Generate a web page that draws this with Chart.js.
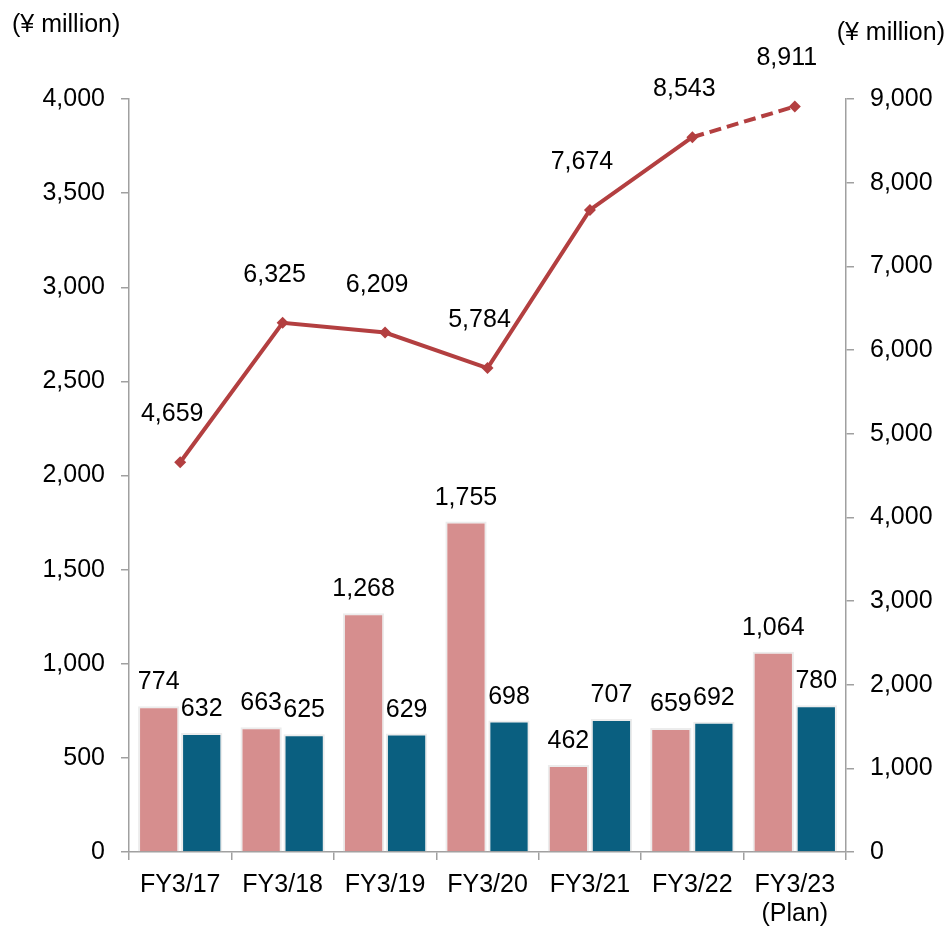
<!DOCTYPE html>
<html>
<head>
<meta charset="utf-8">
<script src="https://cdn.jsdelivr.net/npm/chart.js@4"></script>
<style>
  body { margin: 0; background: #fff; }
</style>
</head>
<body>
<canvas id="canvas" width="952" height="926"></canvas>
<script>
const categories = ['FY3/17', 'FY3/18', 'FY3/19', 'FY3/20', 'FY3/21', 'FY3/22', ['FY3/23', '(Plan)']];
const pinkBars = [774, 663, 1268, 1755, 462, 659, 1064];
const tealBars = [632, 625, 629, 698, 707, 692, 780];
const lineValues = [4659, 6325, 6209, 5784, 7674, 8543, 8911];
const leftTicks = [0, 500, 1000, 1500, 2000, 2500, 3000, 3500, 4000];
const rightTicks = [0, 1000, 2000, 3000, 4000, 5000, 6000, 7000, 8000, 9000];
const unitLabel = '(¥ million)';

const fontFamily = '"Liberation Sans", Arial, sans-serif';
const fontSize = 25;
const fmt = (v) => v.toLocaleString('en-US');

const labelPlugin = {
    id: 'labels',
    afterDatasetsDraw(chart) {
        const ctx = chart.ctx;
        ctx.save();
        ctx.fillStyle = '#000';
        ctx.font = fontSize + 'px ' + fontFamily;
        ctx.textAlign = 'center';
        ctx.textBaseline = 'alphabetic';
        [0, 1].forEach((di) => {
            const meta = chart.getDatasetMeta(di);
            meta.data.forEach((bar, i) => {
                ctx.fillText(fmt(chart.data.datasets[di].data[i]), bar.x, bar.y - 17);
            });
        });
        const lm = chart.getDatasetMeta(2);
        lm.data.forEach((pt, i) => {
            ctx.fillText(fmt(lineValues[i]), pt.x - 8, pt.y - 41);
        });
        // unit titles
        ctx.textAlign = 'left';
        ctx.textBaseline = 'middle';
        ctx.fillText(unitLabel, 12, 25);
        ctx.textAlign = 'right';
        ctx.fillText(unitLabel, 945, 33);
        ctx.restore();
    }
};

const axisColor = '#a0a0a0';

const myChart = new Chart(
    document.getElementById('canvas'),
    {
        type: 'bar',
        data: {
            labels: categories,
            datasets: [
                {
                    data: pinkBars,
                    backgroundColor: '#d68e8e',
                    borderColor: '#ececec',
                    borderWidth: 2,
                    yAxisID: 'y',
                    order: 2,
                    categoryPercentage: 0.84,
                    barPercentage: 0.96
                },
                {
                    data: tealBars,
                    backgroundColor: '#0a5f80',
                    borderColor: '#ececec',
                    borderWidth: 2,
                    yAxisID: 'y',
                    order: 2,
                    categoryPercentage: 0.84,
                    barPercentage: 0.96
                },
                {
                    type: 'line',
                    data: lineValues,
                    yAxisID: 'y1',
                    borderColor: '#b33f40',
                    backgroundColor: '#b33f40',
                    borderWidth: 4,
                    pointStyle: 'rectRot',
                    pointRadius: 6,
                    pointBorderWidth: 0,
                    fill: false,
                    tension: 0,
                    order: 0,
                    segment: {
                        borderDash: (c) => c.p1DataIndex === lineValues.length - 1 ? [12, 6] : undefined
                    }
                }
            ]
        },
        options: {
            responsive: false,
            animation: false,
            layout: { padding: { top: 99, left: 0, right: 0, bottom: 0 } },
            plugins: {
                legend: { display: false },
                tooltip: { enabled: false }
            },
            scales: {
                x: {
                    offset: true,
                    grid: { offset: true, drawOnChartArea: false, tickLength: 8, color: axisColor, lineWidth: 1.5 },
                    border: { color: axisColor, width: 1.5 },
                    ticks: { color: '#000', font: { size: fontSize, family: fontFamily, lineHeight: 1.15 }, padding: 11, maxRotation: 0 },
                    afterFit: (s) => { s.height = 74; }
                },
                y: {
                    position: 'left',
                    min: 0,
                    max: 4000,
                    afterBuildTicks: (s) => { s.ticks = leftTicks.map(v => ({ value: v })); },
                    grid: { drawOnChartArea: false, tickLength: 8, color: axisColor, lineWidth: 1.5 },
                    border: { color: axisColor, width: 1.5 },
                    ticks: { color: '#000', font: { size: fontSize, family: fontFamily }, padding: 16, callback: (v) => fmt(v) },
                    afterFit: (s) => { s.width = 129; }
                },
                y1: {
                    position: 'right',
                    min: 0,
                    max: 9000,
                    afterBuildTicks: (s) => { s.ticks = rightTicks.map(v => ({ value: v })); },
                    grid: { drawOnChartArea: false, tickLength: 8, color: axisColor, lineWidth: 1.5 },
                    border: { color: axisColor, width: 1.5 },
                    ticks: { color: '#000', font: { size: fontSize, family: fontFamily }, padding: 16, callback: (v) => fmt(v) },
                    afterFit: (s) => { s.width = 106; }
                }
            }
        },
        plugins: [labelPlugin]
    }
);
</script>
</body>
</html>
